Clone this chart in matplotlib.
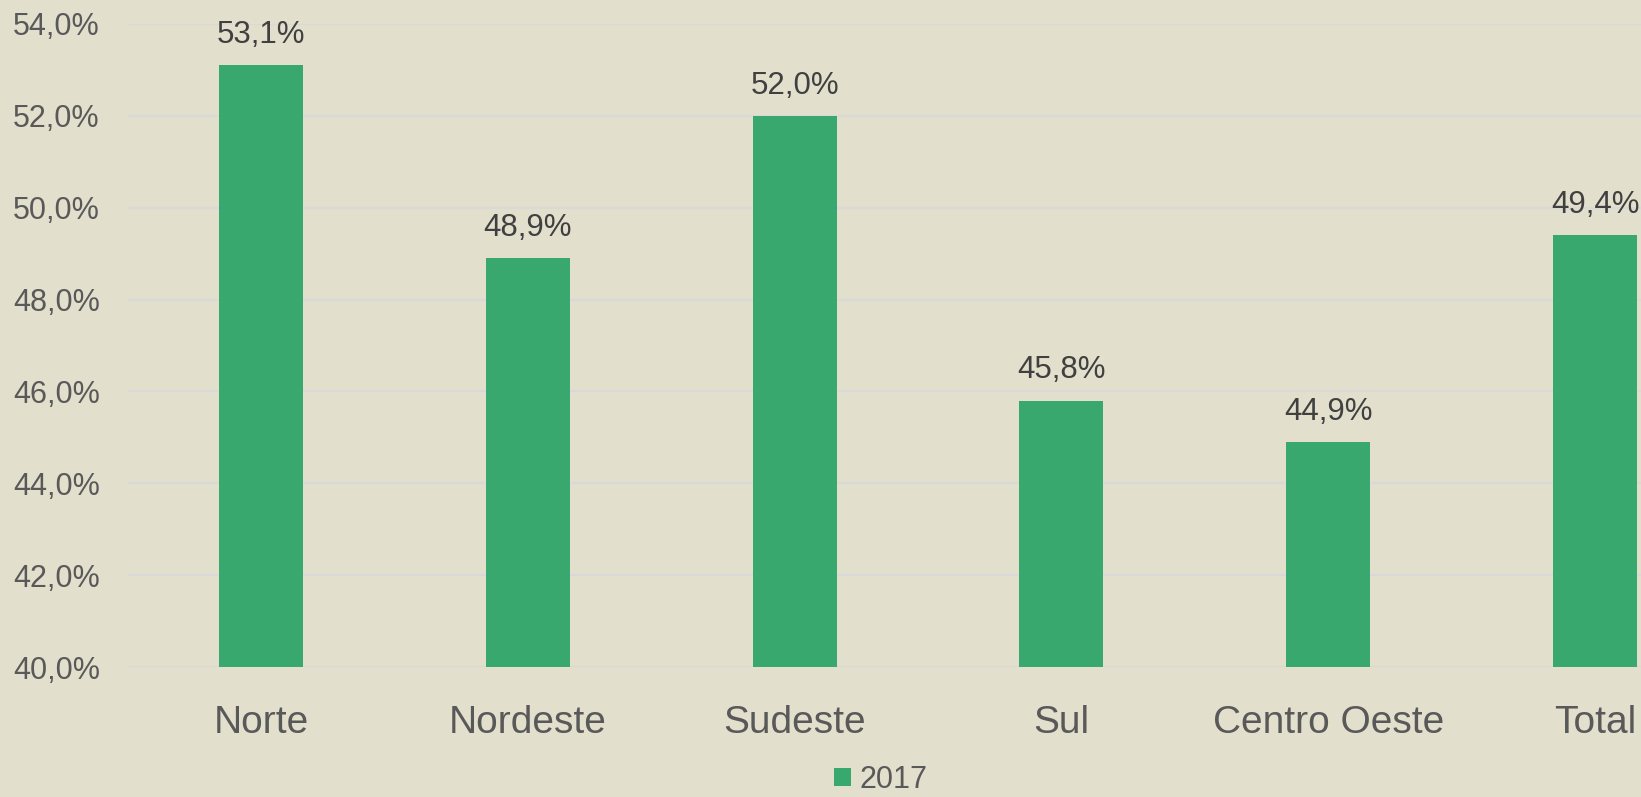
import matplotlib.pyplot as plt
from matplotlib.patches import Patch

# data
regions = ["Norte", "Nordeste", "Sudeste", "Sul", "Centro Oeste", "Total"]
share_2017 = [53.1, 48.9, 52.0, 45.8, 44.9, 49.4]
y_ticks = [40, 42, 44, 46, 48, 50, 52, 54]

BG = "#E2DFCC"
GREEN = "#38A86F"
FONT = "Liberation Sans"


def pct(v):
    return f"{v:.1f}%".replace(".", ",")


fig = plt.figure(figsize=(16.41, 7.97), dpi=100, facecolor=BG)
# the original chart is cut off on the right, so the axes run past the figure edge
ax = fig.add_axes([0.0778, 0.1631, 0.9755, 0.8068])
ax.set_facecolor(BG)

x = range(len(regions))
bars = ax.bar(x, [v - 40 for v in share_2017], bottom=40, width=0.315,
              color=GREEN, zorder=3)

for xi, v in zip(x, share_2017):
    ax.annotate(pct(v), (xi, v), xytext=(0, 11), textcoords="offset points",
                ha="center", va="bottom", fontsize=22.5, color="#404040",
                family=FONT, zorder=4)

ax.set_xlim(-0.5, len(regions) - 0.5)
ax.set_ylim(40, 54)
ax.set_yticks(y_ticks)
ax.set_yticklabels([pct(t) for t in y_ticks], family=FONT, fontsize=22,
                   color="#595959")
ax.set_xticks(list(x))
ax.set_xticklabels(regions, family=FONT, fontsize=28, color="#595959")
ax.tick_params(axis="y", length=0, pad=20)
ax.tick_params(axis="x", length=0, pad=27)
ax.grid(axis="y", color="#D9D9D9", linewidth=1.5, zorder=0)
for s in ax.spines.values():
    s.set_visible(False)

handle = Patch(facecolor=GREEN, edgecolor="none")
fig.legend([handle], ["2017"], loc="center", bbox_to_anchor=(881 / 1641, 17 / 797),
           frameon=False, prop={"family": FONT, "size": 22},
           labelcolor="#595959", handlelength=0.55, handleheight=0.55,
           handletextpad=0.3, borderpad=0, borderaxespad=0)

fig.savefig("out.png", dpi=100, facecolor=BG)
